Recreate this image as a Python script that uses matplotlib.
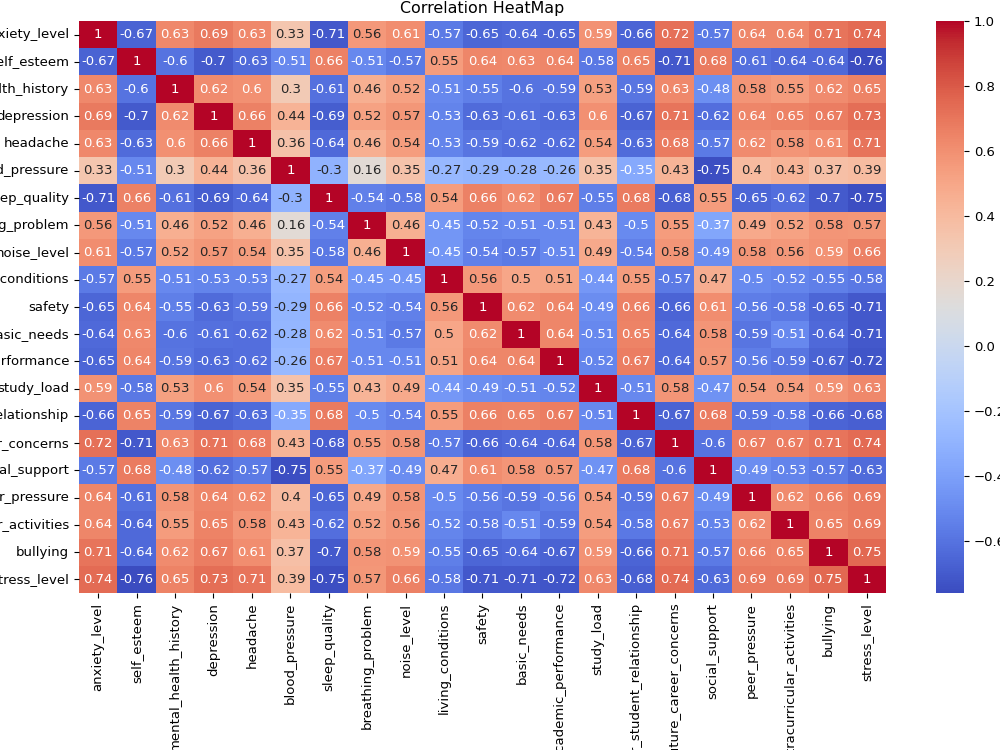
import numpy as np
import pandas as pd
import matplotlib
matplotlib.use("Agg")
import matplotlib.pyplot as plt
import seaborn as sns

cols = ["anxiety_level", "self_esteem", "mental_health_history", "depression", "headache",
        "blood_pressure", "sleep_quality", "breathing_problem", "noise_level", "living_conditions",
        "safety", "basic_needs", "academic_performance", "study_load",
        "teacher_student_relationship", "future_career_concerns", "social_support",
        "peer_pressure", "extracurricular_activities", "bullying", "stress_level"]

# correlation values, one row per variable
anxiety_level = [1, -0.67, 0.63, 0.69, 0.63, 0.33, -0.71, 0.56, 0.61, -0.57, -0.65, -0.64, -0.65, 0.59, -0.66, 0.72, -0.57, 0.64, 0.64, 0.71, 0.74]
self_esteem = [-0.67, 1, -0.6, -0.7, -0.63, -0.51, 0.66, -0.51, -0.57, 0.55, 0.64, 0.63, 0.64, -0.58, 0.65, -0.71, 0.68, -0.61, -0.64, -0.64, -0.76]
mental_health_history = [0.63, -0.6, 1, 0.62, 0.6, 0.3, -0.61, 0.46, 0.52, -0.51, -0.55, -0.6, -0.59, 0.53, -0.59, 0.63, -0.48, 0.58, 0.55, 0.62, 0.65]
depression = [0.69, -0.7, 0.62, 1, 0.66, 0.44, -0.69, 0.52, 0.57, -0.53, -0.63, -0.61, -0.63, 0.6, -0.67, 0.71, -0.62, 0.64, 0.65, 0.67, 0.73]
headache = [0.63, -0.63, 0.6, 0.66, 1, 0.36, -0.64, 0.46, 0.54, -0.53, -0.59, -0.62, -0.62, 0.54, -0.63, 0.68, -0.57, 0.62, 0.58, 0.61, 0.71]
blood_pressure = [0.33, -0.51, 0.3, 0.44, 0.36, 1, -0.3, 0.16, 0.35, -0.27, -0.29, -0.28, -0.26, 0.35, -0.35, 0.43, -0.75, 0.4, 0.43, 0.37, 0.39]
sleep_quality = [-0.71, 0.66, -0.61, -0.69, -0.64, -0.3, 1, -0.54, -0.58, 0.54, 0.66, 0.62, 0.67, -0.55, 0.68, -0.68, 0.55, -0.65, -0.62, -0.7, -0.75]
breathing_problem = [0.56, -0.51, 0.46, 0.52, 0.46, 0.16, -0.54, 1, 0.46, -0.45, -0.52, -0.51, -0.51, 0.43, -0.5, 0.55, -0.37, 0.49, 0.52, 0.58, 0.57]
noise_level = [0.61, -0.57, 0.52, 0.57, 0.54, 0.35, -0.58, 0.46, 1, -0.45, -0.54, -0.57, -0.51, 0.49, -0.54, 0.58, -0.49, 0.58, 0.56, 0.59, 0.66]
living_conditions = [-0.57, 0.55, -0.51, -0.53, -0.53, -0.27, 0.54, -0.45, -0.45, 1, 0.56, 0.5, 0.51, -0.44, 0.55, -0.57, 0.47, -0.5, -0.52, -0.55, -0.58]
safety = [-0.65, 0.64, -0.55, -0.63, -0.59, -0.29, 0.66, -0.52, -0.54, 0.56, 1, 0.62, 0.64, -0.49, 0.66, -0.66, 0.61, -0.56, -0.58, -0.65, -0.71]
basic_needs = [-0.64, 0.63, -0.6, -0.61, -0.62, -0.28, 0.62, -0.51, -0.57, 0.5, 0.62, 1, 0.64, -0.51, 0.65, -0.64, 0.58, -0.59, -0.51, -0.64, -0.71]
academic_performance = [-0.65, 0.64, -0.59, -0.63, -0.62, -0.26, 0.67, -0.51, -0.51, 0.51, 0.64, 0.64, 1, -0.52, 0.67, -0.64, 0.57, -0.56, -0.59, -0.67, -0.72]
study_load = [0.59, -0.58, 0.53, 0.6, 0.54, 0.35, -0.55, 0.43, 0.49, -0.44, -0.49, -0.51, -0.52, 1, -0.51, 0.58, -0.47, 0.54, 0.54, 0.59, 0.63]
teacher_student_relationship = [-0.66, 0.65, -0.59, -0.67, -0.63, -0.35, 0.68, -0.5, -0.54, 0.55, 0.66, 0.65, 0.67, -0.51, 1, -0.67, 0.68, -0.59, -0.58, -0.66, -0.68]
future_career_concerns = [0.72, -0.71, 0.63, 0.71, 0.68, 0.43, -0.68, 0.55, 0.58, -0.57, -0.66, -0.64, -0.64, 0.58, -0.67, 1, -0.6, 0.67, 0.67, 0.71, 0.74]
social_support = [-0.57, 0.68, -0.48, -0.62, -0.57, -0.75, 0.55, -0.37, -0.49, 0.47, 0.61, 0.58, 0.57, -0.47, 0.68, -0.6, 1, -0.49, -0.53, -0.57, -0.63]
peer_pressure = [0.64, -0.61, 0.58, 0.64, 0.62, 0.4, -0.65, 0.49, 0.58, -0.5, -0.56, -0.59, -0.56, 0.54, -0.59, 0.67, -0.49, 1, 0.62, 0.66, 0.69]
extracurricular_activities = [0.64, -0.64, 0.55, 0.65, 0.58, 0.43, -0.62, 0.52, 0.56, -0.52, -0.58, -0.51, -0.59, 0.54, -0.58, 0.67, -0.53, 0.62, 1, 0.65, 0.69]
bullying = [0.71, -0.64, 0.62, 0.67, 0.61, 0.37, -0.7, 0.58, 0.59, -0.55, -0.65, -0.64, -0.67, 0.59, -0.66, 0.71, -0.57, 0.66, 0.65, 1, 0.75]
stress_level = [0.74, -0.76, 0.65, 0.73, 0.71, 0.39, -0.75, 0.57, 0.66, -0.58, -0.71, -0.71, -0.72, 0.63, -0.68, 0.74, -0.63, 0.69, 0.69, 0.75, 1]

rows = [anxiety_level, self_esteem, mental_health_history, depression, headache,
        blood_pressure, sleep_quality, breathing_problem, noise_level, living_conditions,
        safety, basic_needs, academic_performance, study_load, teacher_student_relationship,
        future_career_concerns, social_support, peer_pressure, extracurricular_activities,
        bullying, stress_level]

corr = pd.DataFrame(rows, index=cols, columns=cols)

plt.rcParams['font.size'] = 9.5

fig = plt.figure(figsize=(10, 7.5), dpi=100)
# axes placed so the long labels run off the canvas like in the screenshot
ax = fig.add_axes([0.079, 0.2093, 0.807, 0.7627])
cax = fig.add_axes([0.936, 0.2093, 0.028, 0.7627])

sns.heatmap(corr, annot=True, cmap="coolwarm", ax=ax, cbar_ax=cax)
ax.set_title("Correlation HeatMap")

plt.savefig("out.png", dpi=100)
